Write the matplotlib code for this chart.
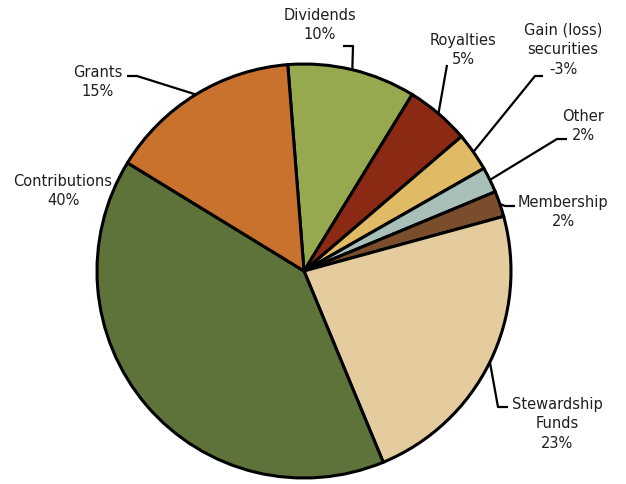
import numpy as np
import matplotlib
matplotlib.use("Agg")
import matplotlib.pyplot as plt

# Revenue sources (percent); the securities line is a net loss
categories = ["Dividends", "Royalties", "Gain (loss)\nsecurities", "Other",
              "Membership", "Stewardship\nFunds", "Contributions", "Grants"]
values = [10, 5, -3, 2, 2, 23, 40, 15]
colors = ["#97A94F", "#8B2A14", "#E1BA66", "#A9BFBA",
          "#7A4E2D", "#E4CC9F", "#5E733A", "#C8722D"]

W, H = 626, 485
fig = plt.figure(figsize=(W / 100, H / 100), dpi=100)
ax = fig.add_axes([0, 0, 1, 1])

cx, cy, r = 304, H - 272, 207

wedges, _ = ax.pie(np.abs(values), colors=colors, startangle=94.5,
                   counterclock=False, center=(cx, cy), radius=r,
                   frame=True,
                   wedgeprops=dict(edgecolor="black", linewidth=2.2))
ax.set_xlim(0, W)
ax.set_ylim(0, H)
ax.set_aspect("equal")
ax.axis("off")

# Label layout in pixel coordinates (y from the top):
# text centre, and the leader path (elbow, end) from the wedge edge
layout = {
    "Dividends":      dict(text=(320, 25), path=[(353, 47), (343, 47)]),
    "Royalties":      dict(text=(463, 50), path=[(447, 66)]),
    "Gain (loss)\nsecurities": dict(text=(563, 50), path=[(535, 77), (543, 77)]),
    "Other":          dict(text=(583, 126), path=[(557, 140), (567, 140)]),
    "Membership":     dict(text=(563, 212), path=[(505, 207), (515, 207)]),
    "Stewardship\nFunds": dict(text=(557, 424), path=[(498, 408), (508, 408)]),
    "Contributions":  dict(text=(63, 191), path=None),
    "Grants":         dict(text=(98, 82), path=[(137, 77), (127, 77)]),
}

for w, cat, v in zip(wedges, categories, values):
    lay = layout[cat]
    tx, ty = lay["text"]
    ax.text(tx, H - ty, f"{cat}\n{v}%", ha="center", va="center",
            fontsize=10.5, color="#1f1f1f", linespacing=1.38,
            family="DejaVu Sans")
    if lay["path"]:
        mid = np.deg2rad((w.theta1 + w.theta2) / 2)
        xs = [cx + r * np.cos(mid)] + [p[0] for p in lay["path"]]
        ys = [cy + r * np.sin(mid)] + [H - p[1] for p in lay["path"]]
        ax.plot(xs, ys, color="black", linewidth=1.6, solid_capstyle="butt",
                zorder=0.5)

fig.savefig("out.png", dpi=100, facecolor="white")
